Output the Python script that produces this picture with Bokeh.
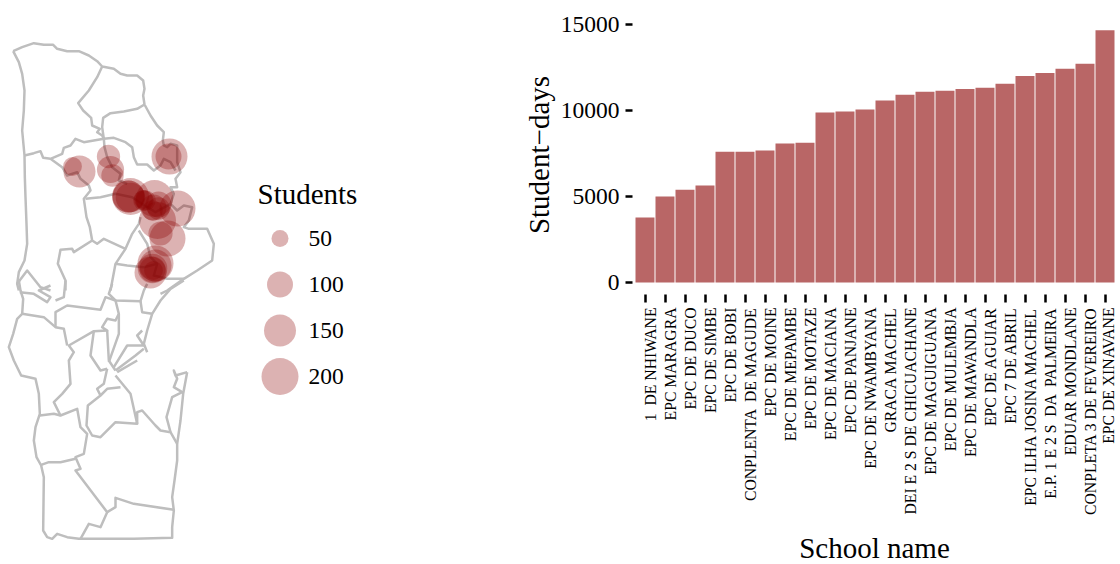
import numpy as np
from bokeh.core.properties import value
from bokeh.embed import file_html
from bokeh.layouts import column, row
from bokeh.models import FixedTicker, LinearAxis, Range1d
from bokeh.plotting import figure
from bokeh.resources import INLINE

SERIF = "Liberation Serif"

schools = ["1 \u00a0DE NHIWANE", "EPC MARAGRA", "EPC DE DUCO", "EPC DE SIMBE", "EPC DE BOBI",
           "CONPLENTA \u00a0DE MAGUDE", "EPC DE MOINE", "EPC DE MEPAMBE", "EPC DE MOTAZE",
           "EPC DE MACIANA", "EPC DE PANJANE", "EPC DE NWAMBYANA", "GRACA MACHEL",
           "DEI E 2 S DE CHICUACHANE", "EPC DE MAGUIGUANA", "EPC DE MULEMBJA",
           "EPC DE MAWANDLA", "EPC DE AGUIAR", "EPC 7 DE ABRIL", "EPC ILHA JOSINA MACHEL",
           "E.P. 1 E 2 S \u00a0DA \u00a0PALMEIRA", "EDUAR MONDLANE", "CONPLETA 3 DE FEVEREIRO",
           "EPC DE XINAVANE"]
student_days = [3770, 4990, 5390, 5630, 7590, 7590, 7660, 8070, 8120, 9870, 9930, 10050,
                10570, 10900, 11080, 11130, 11240, 11310, 11540, 11990, 12170, 12420,
                12700, 14650]
y_ticks = [0, 5000, 10000, 15000]

legend_students = [50, 100, 150, 200]

# school locations on the map (map units) and number of students
school_x = [79, 72, 108, 110, 112, 169, 168, 130, 128, 128, 130, 143, 145, 143, 154, 153, 158, 158, 152, 177, 157, 167, 160, 155, 150, 152, 153, 152, 155]
school_y = [171, 166, 156, 169, 175, 156, 156, 196, 196, 196, 197, 200, 200, 199, 198, 207, 204, 208, 210, 208, 220, 238, 233, 263, 272, 269, 270, 268, 265]
school_students = [150, 60, 85, 110, 80, 190, 100, 200, 150, 150, 130, 70, 70, 60, 210, 100, 100, 80, 70, 190, 200, 190, 90, 190, 150, 100, 60, 130, 150]

borders_north = [
    [(38,62),(65,50),(100,38),(130,43),(158,43),(170,55),(200,62),(235,62),(265,75),(290,92),(305,108),(340,115),(360,130),(380,135),(410,135),(428,150),(432,175),(428,195),(432,222),(450,255),(470,285),(490,305),(487,330),(490,345),(500,350),(510,340),(530,345),(530,370),(530,395),(540,425),(525,445),(530,470),(510,470),(520,490),(510,520),(530,540),(550,525),(575,530),(565,570),(550,590),(565,595),(620,595),(640,640),(635,690),(590,720),(550,745),(500,780),(480,790)],
    [(38,62),(55,95),(65,130),(72,180),(70,240),(65,300),(72,375),(73,440),(75,500),(78,580),(80,640),(72,690),(55,725),(50,760),(55,780)],
    [(305,108),(290,140),(265,180),(233,218),(248,240),(272,262),(275,285),(298,295),(290,305),(305,315),(310,325)],
    [(432,222),(410,235),(370,243),(330,248),(308,262),(305,290),(310,325),(340,322),(375,335),(395,350),(400,380),(410,402),(440,402),(460,420),(480,405),(490,385),(510,395),(525,420)],
    [(72,375),(100,368),(120,362),(128,382),(150,385),(185,370),(190,352),(210,345),(225,325),(250,335),(280,330),(310,325)],
    [(150,385),(185,410),(200,435),(230,425),(240,445),(265,465),(270,480),(250,505),(258,560),(268,590),(275,630),(290,640),(310,625),(375,655),(395,610),(415,580),(420,560)],
    [(255,505),(300,500),(345,490),(395,500),(440,530),(465,545),(510,520)],
    [(310,325),(312,350),(320,380),(335,410),(360,430),(355,450),(380,460)],
    [(275,630),(220,665),(215,655),(180,658),(172,700),(195,750),(195,780)],
    [(415,600),(440,640),(450,680),(470,700),(460,735),(500,745),(550,745)],
    [(345,700),(380,705),(430,710),(470,700)],
    [(375,655),(345,700),(330,780)],
    [(50,760),(80,720),(120,770),(150,780)],
]
borders_south = [
    [(55,0),(60,30),(68,55),(65,100),(50,115),(38,160),(25,200),(40,240),(62,285),(105,295),(115,340),(118,400),(105,440),(100,480),(108,530),(122,555),(130,590),(128,750),(140,770),(155,775),(170,760),(200,770),(235,775),(300,775),(400,775),(515,772),(515,740),(520,690),(515,650),(522,600),(530,540),(530,490),(540,420),(548,340),(560,275)],
    [(550,0),(510,25),(480,60),(455,100),(440,150),(430,190),(440,215)],
    [(58,35),(100,40),(140,65),(150,50),(115,30),(150,15)],
    [(195,0),(190,50),(165,60)],
    [(335,10),(325,40),(345,60),(420,62),(430,30),(440,10)],
    [(420,62),(425,95),(455,100)],
    [(65,100),(130,110),(165,140),(190,145),(200,195)],
    [(165,140),(165,95),(200,75),(300,88),(315,50),(345,60),(355,100),(345,120),(320,115),(305,140),(320,150),(280,152),(205,195),(220,215),(205,240),(210,310),(185,340),(160,365),(180,405),(230,385),(240,440),(260,460),(250,520),(225,530),(240,565),(225,570),(320,695),(300,740),(265,730),(240,775)],
    [(118,405),(160,400),(180,405)],
    [(122,553),(145,545),(180,545),(225,535)],
    [(320,695),(345,680),(345,652),(400,670),(520,688)],
    [(355,100),(355,160),(325,245)],
    [(280,152),(270,225),(300,270),(320,265)],
    [(320,150),(325,240),(345,270)],
    [(425,150),(410,165),(430,195),(380,195),(340,260)],
    [(430,205),(405,225),(345,270)],
    [(410,240),(350,275)],
    [(345,285),(390,340),(410,430),(345,425),(300,470),(275,465),(258,435),(262,375),(300,345),(320,325),(360,320)],
    [(320,265),(310,310),(290,325),(300,345)],
    [(410,430),(410,395),(425,390),(465,435),(480,450),(510,455),(530,490)],
    [(510,455),(498,410),(515,350),(545,335),(520,320),(530,295),(520,270),(525,285),(560,275)],
]

# ---------------- map panel ----------------
MAP_RIGHT = 510
PAGE_H = 564


def diameter(students):
    return np.interp(students, legend_students, [17, 26, 32, 37])


m = figure(width=MAP_RIGHT, height=PAGE_H, output_backend="svg", toolbar_location=None,
           x_range=Range1d(0, MAP_RIGHT), y_range=Range1d(PAGE_H, 0),
           x_axis_type=None, y_axis_type=None, min_border=0, outline_line_color=None)
m.grid.visible = False

xs, ys = [], []
for line in borders_north:
    xs.append([a / 3 for a, _ in line])
    ys.append([30 + b / 3 for _, b in line])
for line in borders_south:
    xs.append([a / 3 for a, _ in line])
    ys.append([280 + b / 3 for _, b in line])
m.multi_line(xs, ys, line_color="#bebebe", line_width=2.5, line_join="round")

m.scatter(school_x, school_y, size=diameter(school_students), marker="circle",
          fill_color="#8b0000", fill_alpha=0.3, line_color=None)

legend_x = 279.5
legend_y = [238, 284, 330, 376]
m.scatter([legend_x] * 4, legend_y, size=diameter(legend_students), marker="circle",
          fill_color="#8b0000", fill_alpha=0.3, line_color=None)
m.text([308] * 4, legend_y, text=[str(v) for v in legend_students], text_font=value(SERIF),
       text_font_size="23.5px", text_baseline="middle", text_color="black")
m.text([257], [193], text=["Students"], text_font=value(SERIF), text_font_size="29px",
       text_baseline="middle", text_color="black")

# ---------------- bar panel ----------------
FRAME_LEFT, FRAME_RIGHT, FRAME_TOP, FRAME_BOTTOM = 632, 1116, 15, 294
BAR_PANEL_H = 568
PX_PER_BAR = 20.0
PX_PER_UNIT = 86.1 / 5000
ZERO_Y = 282
FIRST_X = 644.5
x_start = (FRAME_LEFT - FIRST_X) / PX_PER_BAR
x_end = (FRAME_RIGHT - FIRST_X) / PX_PER_BAR
y_start = -(FRAME_BOTTOM - ZERO_Y) / PX_PER_UNIT
y_end = (ZERO_Y - FRAME_TOP) / PX_PER_UNIT

b = figure(width=FRAME_RIGHT - MAP_RIGHT, height=BAR_PANEL_H, output_backend="svg", toolbar_location=None,
           x_range=Range1d(x_start, x_end), y_range=Range1d(y_start, y_end),
           x_axis_type=None, y_axis_type=None, outline_line_color=None,
           min_border_left=FRAME_LEFT - MAP_RIGHT, min_border_right=0,
           min_border_top=FRAME_TOP, min_border_bottom=BAR_PANEL_H - FRAME_BOTTOM)
b.grid.visible = False
positions = list(range(len(schools)))
b.vbar(x=positions, bottom=0, top=student_days, width=0.95, fill_color="#8b0000", fill_alpha=0.6,
       line_color=None)

yaxis = LinearAxis(ticker=FixedTicker(ticks=y_ticks), axis_label="Student\u2212days",
                   axis_line_color=None, major_tick_in=0, major_tick_out=7, minor_tick_line_color=None,
                   major_tick_line_width=2.5, major_tick_line_color="black",
                   major_label_text_font=SERIF, major_label_text_font_size="23.5px",
                   major_label_text_color="black", major_label_standoff=6,
                   axis_label_text_font=SERIF, axis_label_text_font_size="29px",
                   axis_label_text_font_style="normal", axis_label_text_color="black",
                   axis_label_standoff=3)
b.add_layout(yaxis, "left")

tickaxis = LinearAxis(ticker=FixedTicker(ticks=positions), axis_line_color=None, major_tick_in=0,
                      major_tick_out=8, minor_tick_line_color=None, major_tick_line_width=2.5,
                      major_tick_line_color="black", major_label_text_font_size="0px",
                      major_label_standoff=0)
tickaxis.major_label_overrides = {i: "" for i in positions}
b.add_layout(tickaxis, "below")

# labels sit a little to the right of their ticks: a shifted copy of the x scale
LABEL_SHIFT = 5.0 / PX_PER_BAR
b.extra_x_ranges["labels"] = Range1d(x_start - LABEL_SHIFT, x_end - LABEL_SHIFT)
labelaxis = LinearAxis(x_range_name="labels", ticker=FixedTicker(ticks=positions),
                       axis_line_color=None, major_tick_line_color=None, minor_tick_line_color=None,
                       major_tick_in=0, major_tick_out=0, major_label_orientation=np.pi / 2,
                       major_label_text_font=SERIF, major_label_text_font_size="15.7px",
                       major_label_text_color="black", major_label_standoff=5,
                       axis_label="School name", axis_label_text_font=SERIF,
                       axis_label_text_font_size="29px", axis_label_text_font_style="normal",
                       axis_label_text_color="black", axis_label_standoff=14)
labelaxis.major_label_overrides = {i: s for i, s in enumerate(schools)}
b.add_layout(labelaxis, "below")

page = row(column(m), column(b), spacing=0)
open("out.html", "w").write(file_html(page, INLINE))
